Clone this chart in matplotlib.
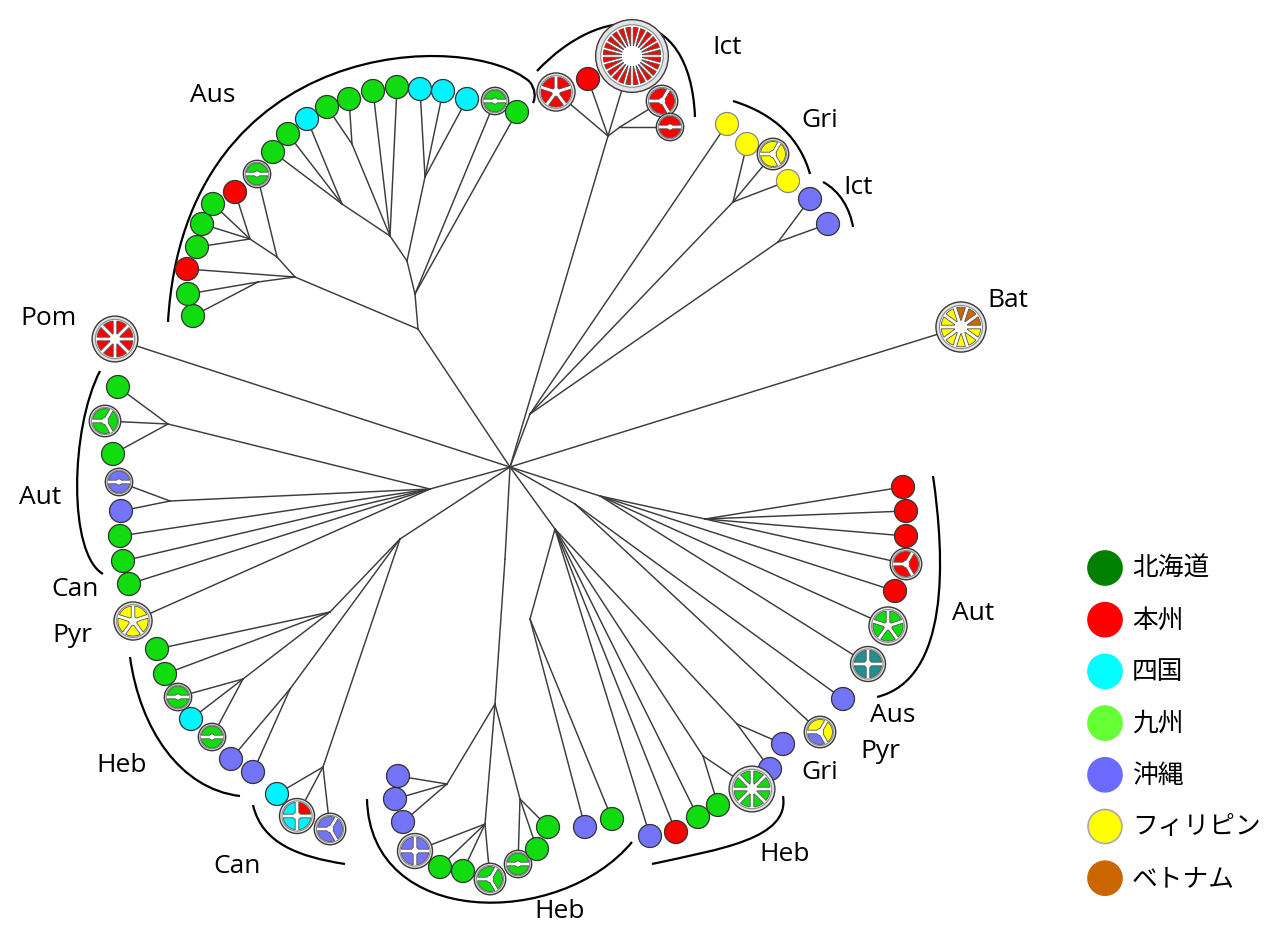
import numpy as np
import matplotlib.pyplot as plt
from matplotlib.patches import Circle, Polygon, PathPatch
from matplotlib.path import Path

# sample colours used in the tree
TREE_COLORS = {
    'G': '#10dc10',
    'R': '#ff0000',
    'C': '#00f4ff',
    'P': '#7474f8',
    'Y': '#ffff00',
    'O': '#cc6600',
    'T': '#1f8f8f',
}

# legend
legend_labels = ['北海道', '本州', '四国', '九州', '沖縄', 'フィリピン', 'ベトナム']
legend_colors = ['#007f00', '#ff0000', '#00ffff', '#66ff33', '#6b6bff', '#ffff00', '#cc6600']

# internal nodes of the network (pixel layout)
node_names = ['H', 'A0', 'AL1', 'AL1a', 'AL2', 'AL3', 'AR1', 'AR2', 'AR3', 'AR3a', 'AR3b', 'AR4',
              'I1', 'I2', 'GH', 'G1', 'P1', 'RA0', 'RA1', 'RB0',
              'BR0', 'BR1', 'BR2', 'BR3', 'BH', 'BC0', 'BC1', 'BC2', 'BC3',
              'L0', 'LA1', 'LA2', 'LH0', 'LH1', 'LH2', 'LH3', 'LH4']
node_x = [510, 418, 295, 258, 277, 250, 415, 407, 390, 342, 352, 425,
          608, 620, 530, 733, 778, 600, 705, 575,
          555, 737, 703, 530, 505, 495, 447, 485, 520,
          430, 168, 170, 400, 330, 243, 290, 323]
node_y = [468, 330, 278, 283, 258, 240, 295, 262, 237, 205, 145, 178,
          137, 128, 415, 203, 243, 497, 520, 505,
          530, 725, 757, 620, 560, 705, 785, 825, 800,
          490, 425, 502, 540, 613, 680, 690, 768]
node_parent = [None, 'H', 'A0', 'AL1', 'AL1', 'AL2', 'A0', 'AR1', 'AR2', 'AR3', 'AR3', 'AR2',
               'H', 'I1', 'H', 'GH', 'GH', 'H', 'RA0', 'H',
               'H', 'BR0', 'BR0', 'BR0', 'H', 'BH', 'BC0', 'BC0', 'BC0',
               'H', 'L0', 'L0', 'H', 'LH0', 'LH1', 'LH0', 'LH0']

# haplotypes: position, samples (one letter per individual) and parent node
leaf_x = [193, 188, 187, 197, 202, 213, 235, 257, 273, 288, 307, 327, 349, 373, 397, 420, 443, 467, 495, 517,
          115,
          556, 588, 632, 662, 670,
          727, 747, 773, 788, 810, 828,
          961,
          903, 906, 906, 906, 895, 888, 868,
          843, 820,
          783, 770, 752, 718, 698, 676, 650, 612, 585,
          398, 395, 403, 415, 440, 463, 490, 518, 537, 548,
          118, 105, 113, 119, 121, 120, 123, 129, 133,
          157, 165, 178, 191, 212, 231, 253, 277, 297, 330]
leaf_y = [317, 295, 270, 248, 225, 205, 193, 175, 153, 135, 120, 108, 100, 92, 88, 90, 92, 100, 102, 113,
          340,
          93, 80, 57, 102, 128,
          125, 145, 155, 182, 200, 225,
          328,
          488, 512, 537, 565, 592, 627, 665,
          700, 733,
          745, 770, 790, 806, 818, 833, 837, 820, 828,
          777, 800, 823, 852, 868, 872, 880, 865, 850, 828,
          388, 422, 455, 483, 512, 537, 562, 585, 622,
          650, 675, 698, 720, 738, 760, 773, 795, 817, 830]
leaf_samples = ['G', 'G', 'R', 'G', 'G', 'G', 'R', 'GG', 'G', 'G', 'C', 'G', 'G', 'G', 'G', 'C', 'C', 'C', 'GG', 'G',
                'RRRRRRRR',
                'RRRRR', 'R', 'R' * 24, 'RRR', 'RR',
                'Y', 'Y', 'YYY', 'Y', 'P', 'P',
                'OOOYYYYYYY',
                'R', 'R', 'R', 'RRR', 'R', 'GGGGG', 'TTTT',
                'P', 'YPY',
                'P', 'P', 'G' * 8, 'G', 'G', 'R', 'P', 'G', 'P',
                'P', 'P', 'P', 'PPPP', 'G', 'G', 'GGG', 'GG', 'G', 'G',
                'G', 'GGG', 'G', 'PP', 'P', 'G', 'G', 'G', 'YYYYY',
                'G', 'G', 'GG', 'C', 'GG', 'P', 'P', 'C', 'RCCC', 'PPP']
leaf_parent = ['AL1a', 'AL1a', 'AL1', 'AL3', 'AL3', 'AL3', 'AL3', 'AL2', 'AR3a', 'AR3a', 'AR3a', 'AR3b', 'AR3b',
               'AR3', 'AR3', 'AR4', 'AR4', 'AR4', 'AR1', 'AR1',
               'H',
               'I1', 'I1', 'I1', 'I2', 'I2',
               'GH', 'G1', 'G1', 'G1', 'P1', 'P1',
               'H',
               'RA1', 'RA1', 'RA1', 'RA1', 'RA0', 'RA0', 'RA0',
               'RB0', 'RB0',
               'BR1', 'BR1', 'BR2', 'BR2', 'BR0', 'BR0', 'BR0', 'BR3', 'BR3',
               'BC1', 'BC1', 'BC1', 'BC2', 'BC2', 'BC2', 'BC2', 'BC3', 'BC3', 'BC3',
               'LA1', 'LA1', 'LA1', 'LA2', 'LA2', 'L0', 'L0', 'L0', 'L0',
               'LH1', 'LH1', 'LH2', 'LH2', 'LH2', 'LH3', 'LH3', 'LH4', 'LH4', 'LH4']

# group labels
group_text = ['Aus', 'Ict', 'Gri', 'Ict', 'Bat', 'Pom', 'Aut', 'Can', 'Pyr', 'Heb', 'Can', 'Heb', 'Heb',
              'Aut', 'Aus', 'Pyr', 'Gri']
group_x = [213, 727, 820, 858, 1008, 48, 40, 75, 72, 122, 237, 560, 785, 973, 893, 880, 820]
group_y = [95, 47, 120, 187, 300, 318, 497, 590, 635, 765, 867, 912, 855, 613, 716, 752, 773]

# brackets around the groups, cubic bezier control points
brackets = [
    [(168, 323), (185, 35), (470, 30), (530, 83)],
    [(530, 83), (535, 90), (536, 98), (533, 104)],
    [(537, 72), (600, 5), (690, 0), (695, 118)],
    [(733, 102), (775, 115), (800, 140), (810, 175)],
    [(823, 183), (840, 192), (850, 210), (853, 228)],
    [(933, 477), (945, 560), (950, 680), (877, 698)],
    [(652, 865), (720, 850), (790, 840), (783, 797)],
    [(367, 800), (370, 930), (560, 930), (632, 843)],
    [(253, 806), (262, 845), (300, 858), (345, 865)],
    [(130, 658), (140, 730), (180, 790), (240, 797)],
    [(100, 372), (70, 430), (68, 555), (103, 575)],
]

W, H_PX = 1265, 929
fig = plt.figure(figsize=(W / 100, H_PX / 100), dpi=100)
ax = fig.add_axes([0, 0, 1, 1])
ax.set_xlim(0, W)
ax.set_ylim(H_PX, 0)
ax.set_aspect('equal')
ax.axis('off')

pos = {n: (x, y) for n, x, y in zip(node_names, node_x, node_y)}

# branches
for n, p in zip(node_names, node_parent):
    if p is None:
        continue
    (x0, y0), (x1, y1) = pos[p], pos[n]
    ax.plot([x0, x1], [y0, y1], color='#3c3c3c', lw=1.05, zorder=1)
for x, y, p in zip(leaf_x, leaf_y, leaf_parent):
    x0, y0 = pos[p]
    ax.plot([x0, x], [y0, y], color='#3c3c3c', lw=1.05, zorder=1)


def wedge_poly(cx, cy, a1, a2, ri, ro, gap):
    h = gap / 2.0
    o1, o2 = a1 + np.arcsin(h / ro), a2 - np.arcsin(h / ro)
    i1, i2 = a1 + np.arcsin(h / ri), a2 - np.arcsin(h / ri)
    to = np.linspace(o1, o2, 30)
    ti = np.linspace(i2, i1, 30)
    xs = np.concatenate([cx + ro * np.cos(to), cx + ri * np.cos(ti)])
    ys = np.concatenate([cy - ro * np.sin(to), cy - ri * np.sin(ti)])
    return np.column_stack([xs, ys])


START = {2: 0, 3: 60, 4: 0, 5: 90}


def draw_haplotype(cx, cy, samples):
    n = len(samples)
    if n == 1:
        ec = '#888888' if samples == 'Y' else '#333333'
        ax.add_patch(Circle((cx, cy), 11.5, fc=TREE_COLORS[samples], ec=ec, lw=0.9, zorder=3))
        return
    R = 6.5 * np.sqrt(n) + 4.5
    ax.add_patch(Circle((cx, cy), R, fc='#e4e4e4', ec='#3a3a3a', lw=1.0, zorder=3))
    ax.add_patch(Circle((cx, cy), R * 0.86, fc='white', ec='#8a8a8a', lw=0.8, zorder=3))
    gap = 3.6 if n <= 10 else 2.4
    step = 2 * np.pi / n
    ro = R * 0.79
    ri = max(R * 0.22, gap / 2 / np.sin(step / 2) * 1.15)
    start = np.deg2rad(START.get(n, 0))
    for k, c in enumerate(samples):
        a1 = start + k * step
        pts = wedge_poly(cx, cy, a1, a1 + step, ri, ro, gap)
        ax.add_patch(Polygon(pts, closed=True, fc=TREE_COLORS[c], ec='#555555', lw=0.6, zorder=4))


for x, y, s in zip(leaf_x, leaf_y, leaf_samples):
    draw_haplotype(x, y, s)

# brackets
for pts in brackets:
    path = Path(pts, [Path.MOVETO, Path.CURVE4, Path.CURVE4, Path.CURVE4])
    ax.add_patch(PathPatch(path, fc='none', ec='black', lw=1.6, zorder=2))

for t, x, y in zip(group_text, group_x, group_y):
    ax.text(x, y, t, fontsize=19, family=['Open Sans', 'DejaVu Sans'], ha='center', va='center', zorder=5)

# legend
for i, (lab, col) in enumerate(zip(legend_labels, legend_colors)):
    ly = 569 + i * 51.7
    ec = '#aaaaaa' if col == '#ffff00' else col
    ax.add_patch(Circle((1105, ly), 17, fc=col, ec=ec, lw=1.2, zorder=3))
    ax.text(1132, ly, lab, fontsize=18.5, family=['Noto Sans CJK JP', 'DejaVu Sans'],
            ha='left', va='center')

fig.savefig('out.png', dpi=100)
